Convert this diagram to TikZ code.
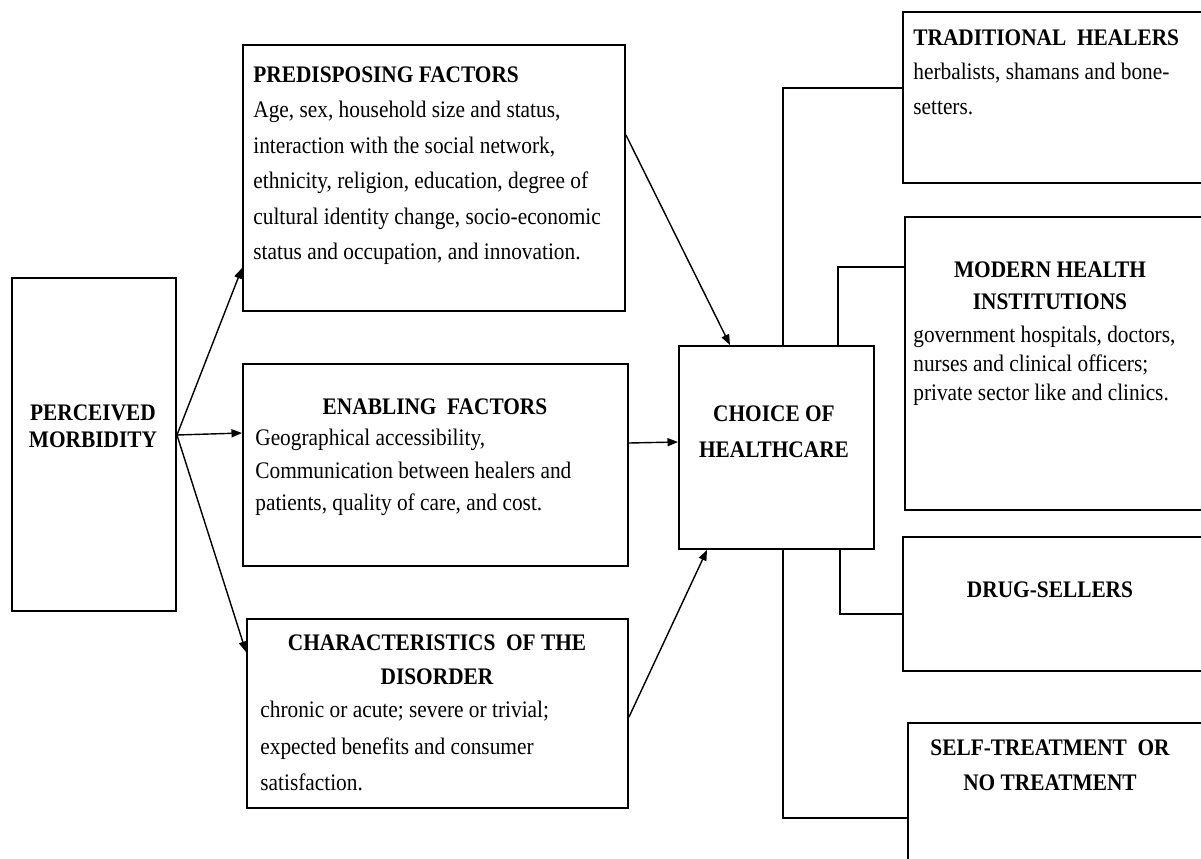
\documentclass[tikz,border=0pt]{standalone}
\usepackage{fontspec}
\setmainfont{Liberation Serif}[FakeStretch=0.9]
\usetikzlibrary{arrows.meta,fit}
\begin{document}
\begin{tikzpicture}[x=0.02cm,y=-0.02cm,
  box/.style={draw, line width=1.1pt, inner sep=0pt},
  link/.style={draw, line width=0.8pt},
  arr/.style={link, -{Triangle[length=6pt,width=4.6pt]}},
  txt/.style={inner sep=0pt, align=left, font=\fontsize{13.5}{#1}\selectfont},
  ttl/.style={inner sep=0pt, align=center, font=\fontsize{13.5}{#1}\selectfont\bfseries},
]
\useasboundingbox (0,0) rectangle (1201,859);

% boxes
\node[box, fit={(12,278) (176,611)}] (perc) {};
\node[box, fit={(243,45) (625,311)}] (pre) {};
\node[box, fit={(243,364) (628,566)}] (ena) {};
\node[box, fit={(247,619) (628,808)}] (cha) {};
\node[box, fit={(679,346) (874,549)}] (choice) {};
\node[box, fit={(903,12) (1215,183)}] (trad) {};
\node[box, fit={(905,217) (1215,510)}] (mod) {};
\node[box, fit={(903,537) (1215,671)}] (drug) {};
\node[box, fit={(908,723) (1215,890)}] (self) {};

% texts
\node[ttl=15.4] (percT) at (93,426) {PERCEIVED\\MORBIDITY};
\node[ttl=20, anchor=north west] (preT) at (253,66) {PREDISPOSING FACTORS};
\node[txt=20.2, anchor=north west] (preB) at (253,101) {Age, sex, household size and status,\\interaction with the social network,\\ethnicity, religion, education, degree of\\cultural identity change, socio-economic\\status and occupation, and innovation.};
\node[ttl=20] (enaT) at (435,407) {ENABLING\ \ FACTORS};
\node[txt=18.5, anchor=north west] (enaB) at (255,429) {Geographical accessibility,\\Communication between healers and\\patients, quality of care, and cost.};
\node[ttl=19.3] (chaT) at (437,660) {CHARACTERISTICS\ \ OF THE\\DISORDER};
\node[txt=20.8, anchor=north west] (chaB) at (260,701) {chronic or acute; severe or trivial;\\expected benefits and consumer\\satisfaction.};
\node[ttl=20.5] (choiceT) at (774,432) {CHOICE OF\\HEALTHCARE};
\node[ttl=20, anchor=north west] (tradT) at (913,29) {TRADITIONAL\ \ HEALERS};
\node[txt=19.9, anchor=north west] (tradB) at (913,63) {herbalists, shamans and bone-\\setters.};
\node[ttl=18.2] (modT) at (1050,286) {MODERN HEALTH\\INSTITUTIONS};
\node[txt=16.5, anchor=north west] (modB) at (913,326) {government hospitals, doctors,\\nurses and clinical officers;\\private sector like and clinics.};
\node[ttl=20] (drugT) at (1050,590) {DRUG-SELLERS};
\node[ttl=19.9] (selfT) at (1050,765) {SELF-TREATMENT\ \ OR\\NO TREATMENT};

% arrows
\draw[arr] (perc.east |- 0,435) -- (pre.west |- 0,268);
\draw[arr] (perc.east |- 0,435) -- (ena.west |- 0,433);
\draw[arr] (perc.east |- 0,435) -- (cha.west |- 0,652);
\draw[arr] (pre.east |- 0,135) -- (choice.north -| 730,0);
\draw[arr] (ena.east |- 0,443) -- (choice.west |- 0,442);
\draw[arr] (cha.east |- 0,717) -- (choice.south -| 707,0);

% connectors
\draw[link] (choice.north -| 783,0) |- (trad.west |- 0,88);
\draw[link] (choice.north -| 838,0) |- (mod.west |- 0,267);
\draw[link] (choice.south -| 840,0) |- (drug.west |- 0,614);
\draw[link] (choice.south -| 783,0) |- (self.west |- 0,818);
\end{tikzpicture}
\end{document}
